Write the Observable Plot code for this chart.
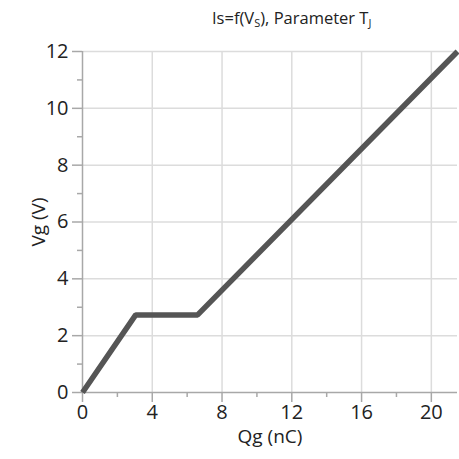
<!DOCTYPE html>
<html>
<head>
<meta charset="utf-8">
<script src="https://cdn.jsdelivr.net/npm/d3@7"></script>
<script src="https://cdn.jsdelivr.net/npm/@observablehq/plot@0.6"></script>
<style>
  html, body { margin: 0; padding: 0; background: #fff; }
  body { width: 459px; font-family: "Open Sans", "Noto Sans", sans-serif; }
  #title { height: 35px; position: relative; font-size: 16.5px; color: #222; }
  #title span { position: absolute; left: 212px; top: 6px; white-space: nowrap; }
  sub { font-size: 11px; vertical-align: -3px; line-height: 0; }
</style>
</head>
<body>
<div id="title"><span>Is=f(V<sub>S</sub>), Parameter T<sub>J</sub></span></div>
<div id="chart"></div>
<script>
const qg = [0, 3.05, 6.6, 21.5];
const vg = [0, 2.73, 2.73, 12];
const xTicks = [0, 4, 8, 12, 16, 20];
const xMinor = [2, 6, 10, 14, 18];
const yTicks = [0, 2, 4, 6, 8, 10, 12];
const yMinor = [1, 3, 5, 7, 9, 11];
const xLabel = "Qg (nC)";
const yLabel = "Vg (V)";

const data = qg.map((q, i) => ({q, v: vg[i]}));
const axisColor = "#a8a8a8";
const gridColor = "#dcdcdc";

const chart = Plot.plot({
  width: 459,
  height: 424,
  marginLeft: 82,
  marginRight: 2,
  marginTop: 16,
  marginBottom: 67,
  style: {fontFamily: "'Open Sans', 'Noto Sans', sans-serif", fontSize: "17px", color: "#222", background: "#fff"},
  x: {domain: [0, 21.5]},
  y: {domain: [0, 12]},
  marks: [
    Plot.gridX(xTicks.filter(d => d > 0), {stroke: gridColor, strokeOpacity: 1, strokeWidth: 1.5}),
    Plot.gridY(yTicks.filter(d => d > 0), {stroke: gridColor, strokeOpacity: 1, strokeWidth: 1.5}),
    Plot.ruleX([0], {stroke: axisColor, strokeWidth: 1.5}),
    Plot.ruleY([0], {stroke: axisColor, strokeWidth: 1.5}),
    Plot.axisX(xTicks, {tickSize: 10, tickPadding: 2, stroke: axisColor, strokeWidth: 1.5, fill: "#222", fontSize: 20, label: null}),
    Plot.axisX(xMinor, {tickSize: 5, stroke: axisColor, strokeWidth: 1.5, tickFormat: () => "", label: null}),
    Plot.axisX([], {tickSize: 0, fill: "#222", fontSize: 19, label: xLabel, labelAnchor: "center", labelOffset: 50, labelArrow: "none"}),
    Plot.axisY(yTicks, {tickSize: 10, tickPadding: 4, stroke: axisColor, strokeWidth: 1.5, fill: "#222", fontSize: 20, label: null}),
    Plot.axisY(yMinor, {tickSize: 5, stroke: axisColor, strokeWidth: 1.5, tickFormat: () => "", label: null}),
    Plot.axisY([], {tickSize: 0, fill: "#222", fontSize: 19, label: yLabel, labelAnchor: "center", labelOffset: 51, labelArrow: "none"}),
    Plot.line(data, {x: "q", y: "v", stroke: "#555", strokeWidth: 5.5, strokeLinejoin: "miter", strokeLinecap: "butt"})
  ]
});
document.getElementById("chart").appendChild(chart);
</script>
</body>
</html>
